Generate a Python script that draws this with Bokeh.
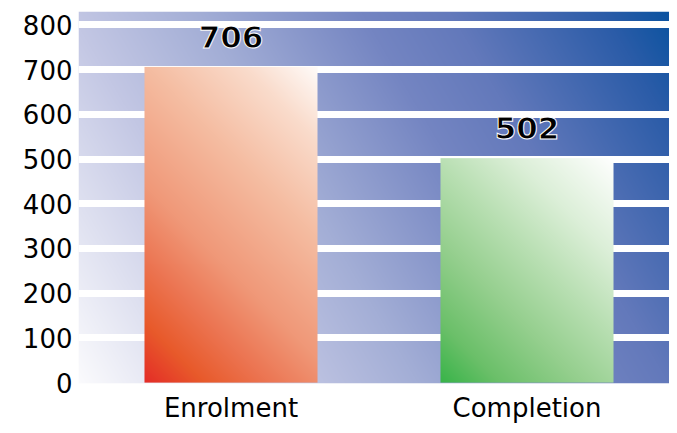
import numpy as np
from bokeh.plotting import figure
from bokeh.models import Range1d, FixedTicker
from bokeh.embed import file_html
from bokeh.resources import INLINE
from bokeh.core.properties import value

# ---- data ----
categories = ["Enrolment", "Completion"]
counts = [706, 502]
y_ticks = [0, 100, 200, 300, 400, 500, 600, 700, 800]
grid_ticks = [100, 200, 300, 400, 500, 600, 700, 800]

# ---- styles ----
BG_STOPS = [(0.0, "#fbfbfd"), (0.26, "#c3c7e4"), (0.42, "#a3aed6"), (0.62, "#7485c2"),
            (0.73, "#6379bb"), (0.92, "#2b5ca8"), (1.0, "#0b53a0")]
BAR_STOPS = [
    [(0.0, "#e42d27"), (0.12, "#e85a2b"), (0.25, "#ec7552"), (0.40, "#f09878"),
     (0.65, "#f5bda2"), (0.85, "#fadccc"), (1.0, "#fffcfa")],
    [(0.0, "#39b44a"), (0.15, "#6cc06a"), (0.35, "#95cf8e"), (0.55, "#b8dfb2"),
     (0.75, "#dcefd8"), (1.0, "#ffffff")],
]

FIG_W, FIG_H = 669, 425
LEFT, TOP, BOTTOM = 78, 11, 40
FRAME_W = FIG_W - LEFT
FRAME_H = FIG_H - TOP - BOTTOM
X0 = -0.0152
X1 = X0 + FRAME_W / 296.0
Y0, Y1 = -2, 830
BAR_W = 0.5845
px_per_unit = FRAME_H / (Y1 - Y0)


def hex2rgb(h):
    h = h.lstrip("#")
    return [int(h[i:i + 2], 16) for i in (0, 2, 4)]


def gradient(nx, ny, stops, wx, wy):
    u = np.linspace(0, 1, nx)
    v = np.linspace(0, 1, ny)
    U, V = np.meshgrid(u, v)
    t = (wx * U + wy * V) / (wx + wy)
    pos = [s[0] for s in stops]
    cols = np.array([hex2rgb(s[1]) for s in stops])
    img = np.empty((ny, nx), dtype=np.uint32)
    view = img.view(dtype=np.uint8).reshape((ny, nx, 4))
    for c in range(3):
        view[:, :, c] = np.interp(t, pos, cols[:, c]).astype(np.uint8)
    view[:, :, 3] = 255
    return img


p = figure(width=FIG_W, height=FIG_H, output_backend="svg", toolbar_location=None,
           x_range=Range1d(X0, X1), y_range=Range1d(Y0, Y1),
           min_border_left=LEFT, min_border_right=0, min_border_top=TOP,
           min_border_bottom=BOTTOM)
p.outline_line_color = None
p.background_fill_color = "white"
p.border_fill_color = "white"

# background gradient
p.image_rgba(image=[gradient(FRAME_W, FRAME_H, BG_STOPS, 0.727 * 599 / FRAME_W, 0.273)],
             x=X0, y=Y0, dw=X1 - X0, dh=Y1 - Y0, level="image")

# bars as gradient images
xs = [i + 0.5 for i in range(len(categories))]
for i, (xc, c) in enumerate(zip(xs, counts)):
    ny = int(round(c * px_per_unit))
    nx = 173
    p.image_rgba(image=[gradient(nx, ny, BAR_STOPS[i], nx, ny)],
                 x=xc - BAR_W / 2, y=0, dw=BAR_W, dh=c)

# value labels
p.text(x=xs, y=counts, text=[str(c) for c in counts],
       text_font=value("DejaVu Sans"), text_font_style="bold", text_font_size="31px",
       text_align="center", text_baseline="middle", y_offset=-30,
       text_color="black", text_outline_color="white")

# grid
p.xgrid.visible = False
p.ygrid.ticker = FixedTicker(ticks=grid_ticks)
p.ygrid.grid_line_color = "white"
p.ygrid.grid_line_width = 7

# axes
p.yaxis.ticker = FixedTicker(ticks=y_ticks)
p.xaxis.ticker = FixedTicker(ticks=xs)
p.xaxis.major_label_overrides = {x: c for x, c in zip(xs, categories)}
for ax in (p.xaxis, p.yaxis):
    ax.axis_line_color = None
    ax.major_tick_line_color = None
    ax.minor_tick_line_color = None
    ax.major_tick_in = 0
    ax.major_tick_out = 0
    ax.major_label_text_font = "DejaVu Sans"
    ax.major_label_text_color = "black"
p.yaxis.major_label_text_font_size = "26px"
p.yaxis.major_label_standoff = 6
p.xaxis.major_label_text_font_size = "26px"
p.xaxis.major_label_standoff = 9

open("out.html", "w").write(file_html(p, INLINE))
